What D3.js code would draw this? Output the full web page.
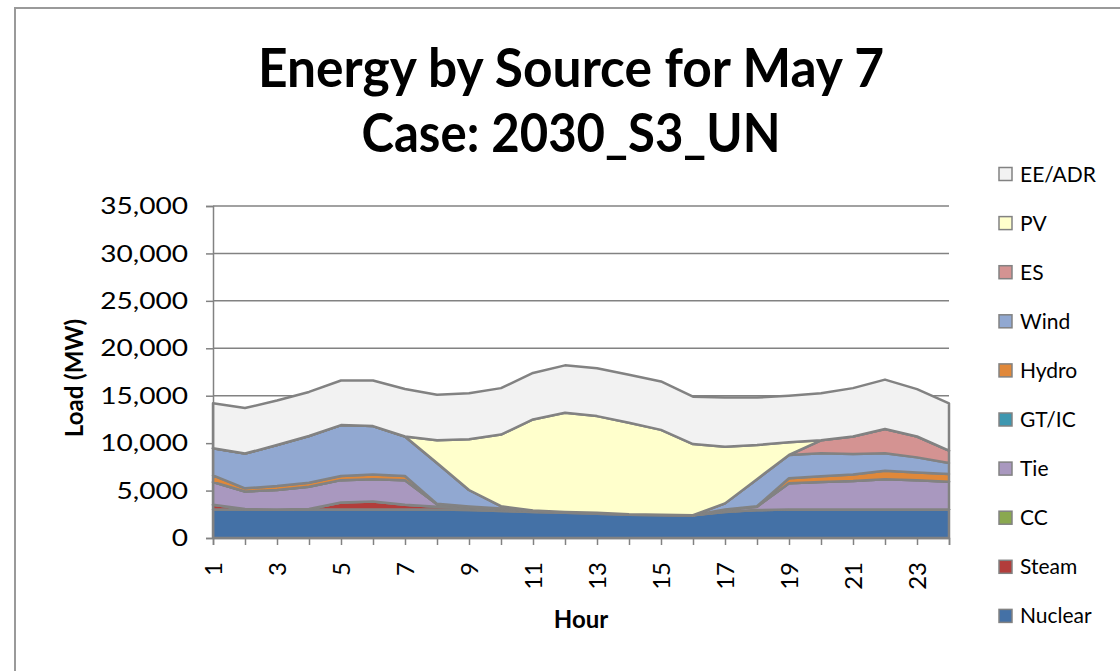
<!DOCTYPE html>
<html>
<head>
<meta charset="utf-8">
<title>Energy by Source for May 7</title>
<script src="https://d3js.org/d3.v7.min.js"></script>
<style>
  body { margin: 0; background: #fff; }
  svg text { font-family: Lato, "Open Sans", sans-serif; fill: #000; }
</style>
</head>
<body>
<svg width="1120" height="671"></svg>
<script>
// hours on the x axis
var hours = [1, 2, 3, 4, 5, 6, 7, 8, 9, 10, 11, 12, 13, 14, 15, 16, 17, 18, 19, 20, 21, 22, 23, 24];

// MW by source (bottom of the stack first)
var nuclear = [3000, 3000, 3000, 3000, 3000, 3000, 3000, 3000, 2950, 2850, 2750, 2650, 2550, 2450, 2400, 2400, 2750, 2950, 3000, 3000, 3000, 3000, 3000, 3000];
var steam   = [500, 50, 0, 50, 750, 850, 500, 300, 250, 200, 150, 100, 100, 50, 50, 0, 50, 0, 0, 0, 0, 0, 0, 0];
var cc      = [0, 0, 0, 0, 0, 0, 0, 0, 0, 0, 0, 0, 0, 0, 0, 0, 0, 0, 0, 0, 0, 0, 0, 0];
var tie     = [2400, 1850, 2060, 2350, 2350, 2350, 2600, 250, 100, 50, 0, 0, 0, 0, 0, 0, 200, 350, 2770, 2900, 3000, 3200, 3100, 2940];
var gtic    = [0, 0, 0, 0, 0, 0, 0, 0, 0, 0, 0, 0, 0, 0, 0, 0, 0, 0, 0, 0, 0, 0, 0, 0];
var hydro   = [700, 340, 420, 430, 440, 500, 440, 50, 30, 0, 0, 0, 0, 0, 0, 0, 0, 50, 530, 600, 700, 900, 800, 810];
var wind    = [2860, 3660, 4320, 4920, 5360, 5100, 4160, 4300, 1730, 250, 0, 0, 0, 0, 0, 0, 650, 2850, 2450, 2430, 2150, 1830, 1600, 1150];
var es      = [0, 0, 0, 0, 0, 0, 0, 0, 0, 0, 0, 0, 0, 0, 0, 0, 0, 0, 0, 1370, 1850, 2570, 2200, 1300];
var pv      = [0, 0, 0, 0, 0, 0, 0, 2400, 5340, 7550, 9600, 10450, 10200, 9650, 8950, 7500, 5980, 3600, 1350, 0, 0, 0, 0, 0];
var eeadr   = [4740, 4800, 4700, 4650, 4700, 4800, 5000, 4800, 4850, 4900, 4900, 5000, 5050, 5050, 5100, 5000, 5170, 5000, 4900, 4950, 5100, 5200, 5000, 5000];

var seriesNames  = ["Nuclear", "Steam", "CC", "Tie", "GT/IC", "Hydro", "Wind", "ES", "PV", "EE/ADR"];
var seriesValues = [nuclear, steam, cc, tie, gtic, hydro, wind, es, pv, eeadr];
var seriesColors = ["#4471a6", "#b23d3b", "#8aa84f", "#a998bf", "#3e97b0", "#e0883a", "#91a8d1", "#d49392", "#ffffcc", "#f2f2f2"];

var yTicks = [0, 5000, 10000, 15000, 20000, 25000, 30000, 35000];

var svg = d3.select("svg");
var x = d3.scaleLinear().domain([1, 24]).range([213, 949]);
var y = d3.scaleLinear().domain([0, 35000]).range([538, 206]);
var gray = "#828282";

// outer frame (only top and left edges show)
svg.append("path")
    .attr("d", "M15,671V8H1120")
    .attr("fill", "none")
    .attr("stroke", "#9a9a9a")
    .attr("stroke-width", 2);

// titles
var title = svg.append("g").attr("font-weight", "bold").attr("text-anchor", "middle");
title.append("text").attr("x", 571).attr("y", 87)
    .attr("font-size", 53).attr("textLength", 626).attr("lengthAdjust", "spacingAndGlyphs")
    .text("Energy by Source for May 7");
title.append("text").attr("x", 571).attr("y", 152)
    .attr("font-size", 53).attr("textLength", 419).attr("lengthAdjust", "spacingAndGlyphs")
    .text("Case: 2030_S3_UN");

// gridlines
svg.append("g").selectAll("line")
  .data(yTicks.slice(1))
  .join("line")
    .attr("x1", x(1)).attr("x2", x(24))
    .attr("y1", function(d) { return y(d); })
    .attr("y2", function(d) { return y(d); })
    .attr("stroke", gray)
    .attr("stroke-width", 1.5);

// stacked areas
var rows = hours.map(function(h, i) {
  var r = { hour: h };
  seriesNames.forEach(function(n, j) { r[n] = seriesValues[j][i]; });
  return r;
});
var stacked = d3.stack().keys(seriesNames)(rows);
var area = d3.area()
    .x(function(d) { return x(d.data.hour); })
    .y0(function(d) { return y(d[0]); })
    .y1(function(d) { return y(d[1]); });

svg.append("g").selectAll("path")
  .data(stacked)
  .join("path")
    .attr("fill", function(d, i) { return seriesColors[i]; })
    .attr("stroke", gray)
    .attr("stroke-width", 2.5)
    .attr("stroke-linejoin", "round")
    .attr("d", area);

// y axis
var yAxis = svg.append("g")
    .attr("transform", "translate(" + x(1) + ",0)")
    .call(d3.axisLeft(y).tickValues(yTicks).tickFormat(d3.format(",")).tickSize(7).tickPadding(18));
yAxis.selectAll("text")
    .attr("font-size", 24).attr("font-family", "Lato, sans-serif")
    .each(function() {
      var w = this.getComputedTextLength();
      d3.select(this).attr("textLength", w * 1.17).attr("lengthAdjust", "spacingAndGlyphs");
    });
yAxis.selectAll("line, path").attr("stroke", gray).attr("stroke-width", 1.5);

// x axis
var xAxis = svg.append("g")
    .attr("transform", "translate(0," + y(0) + ")")
    .call(d3.axisBottom(x).tickValues(hours).tickSize(7)
      .tickFormat(function(d) { return d % 2 ? d : ""; }));
xAxis.selectAll("line, path").attr("stroke", gray).attr("stroke-width", 1.5);
xAxis.selectAll("text")
    .attr("font-size", 24).attr("font-family", "Lato, sans-serif")
    .attr("transform", "rotate(-90)")
    .attr("text-anchor", "end")
    .attr("x", -24).attr("y", 0).attr("dy", "0.35em");

// axis titles
svg.append("text")
    .attr("transform", "translate(83,378) rotate(-90)")
    .attr("text-anchor", "middle")
    .attr("font-size", 24).attr("font-weight", "bold")
    .text("Load (MW)");
svg.append("text")
    .attr("x", 581).attr("y", 628)
    .attr("text-anchor", "middle")
    .attr("font-size", 24).attr("font-weight", "bold")
    .text("Hour");

// legend, top entry is the top of the stack
var legendNames = seriesNames.slice().reverse();
var legendColors = seriesColors.slice().reverse();
var legend = svg.append("g").selectAll("g")
  .data(legendNames)
  .join("g")
    .attr("transform", function(d, i) { return "translate(999," + (174 + i * 49.1) + ")"; });
legend.append("rect")
    .attr("x", 0).attr("y", -6.5).attr("width", 13).attr("height", 13)
    .attr("fill", function(d, i) { return legendColors[i]; })
    .attr("stroke", gray).attr("stroke-width", 1.5);
legend.append("text")
    .attr("x", 21).attr("dy", "0.36em")
    .attr("font-size", 21)
    .text(function(d) { return d; });
</script>
</body>
</html>
